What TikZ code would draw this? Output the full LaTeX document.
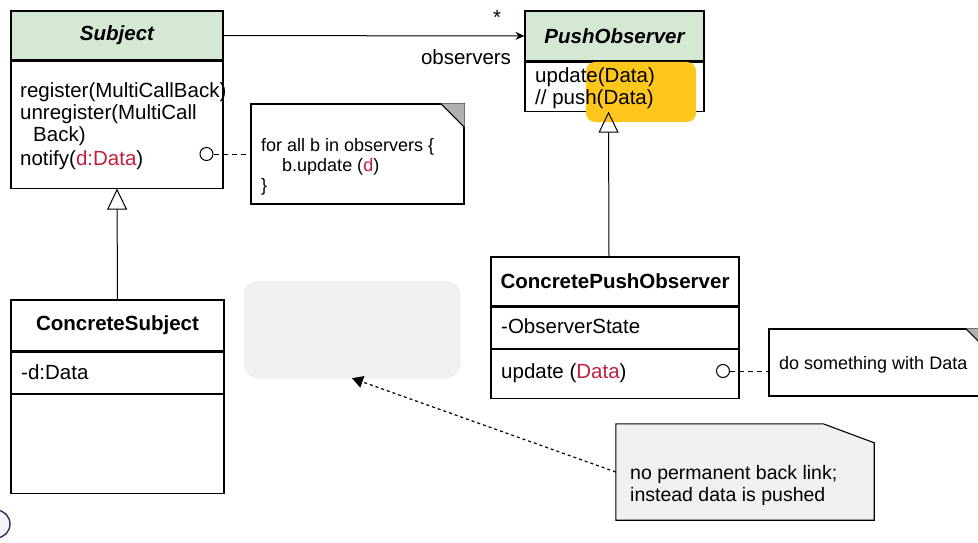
\documentclass[tikz,border=0pt]{standalone}
\usepackage{fontspec}
\setmainfont{Liberation Sans}
\usetikzlibrary{positioning, arrows.meta}

\definecolor{hdrgreen}{RGB}{213,232,212}
\definecolor{dred}{RGB}{190,32,62}
\definecolor{hilite}{RGB}{255,198,28}
\definecolor{notegray}{RGB}{240,240,242}
\definecolor{foldgray}{RGB}{176,176,176}
\definecolor{logoblue}{RGB}{40,52,92}

\begin{document}
\begin{tikzpicture}[x=1pt, y=-1pt,
    font=\fontsize{20.5}{23}\selectfont,
    cls/.style={draw, line width=1.1pt, inner sep=0pt},
    hdr/.style={cls, fill=hdrgreen, font=\fontsize{20.5}{23}\selectfont\bfseries\itshape},
    chdr/.style={cls, font=\fontsize{20.5}{23}\selectfont\bfseries},
    txt/.style={inner sep=0pt, anchor=base west},
    notetxt/.style={txt, font=\fontsize{18}{21}\selectfont},
    note/.style={draw, line width=1.1pt, fill=white, inner sep=0pt},
    fold/.style={fill=foldgray},
    lolly/.style={circle, draw, line width=1pt, fill=white, minimum size=13pt, inner sep=0pt},
    link/.style={line width=1pt, dash pattern=on 5pt off 4pt},
    assoc/.style={-{Stealth[length=9pt, width=8pt]}, line width=1pt},
    inherit/.style={-{Triangle[open, length=21pt, width=20pt]}, line width=1pt},
    hint/.style={-{Triangle[length=11pt, width=12pt]}, line width=1.2pt, dash pattern=on 3pt off 3pt},
]
\clip (0,0) rectangle (978,543);

% --- Subject ---
\node[hdr, minimum width=212pt, minimum height=49pt] (subject) at (117,35.5) {Subject};
\node[cls, minimum width=212pt, minimum height=127pt, below=0pt of subject] (subjectops) {};
\node[txt] (subjop1) at (20,97) {register(MultiCallBack)};
\node[txt] (subjop2) at (20,120) {unregister(MultiCall};
\node[txt] (subjop3) at (33,142) {Back)};
\node[txt] (subjop4) at (20,165) {notify(\textcolor{dred}{d:Data})};
\node[lolly] (notifydot) at (206.5,154) {};

% --- for all note ---
\node[note, minimum width=213pt, minimum height=100pt] (forallnote) at (357.5,154) {};
\fill[fold] ([xshift=-24pt]forallnote.north east) -- (forallnote.north east)
    -- ([yshift=-24pt]forallnote.north east) -- cycle;
\draw[line width=1.1pt] ([xshift=-24pt]forallnote.north east) -- ([yshift=-24pt]forallnote.north east);
\node[notetxt] (forall1) at (261,151) {for all b in observers \{};
\node[notetxt] (forall2) at (282,171) {b.update (\textcolor{dred}{d})};
\node[notetxt] (forall3) at (261,191) {\}};

% --- PushObserver ---
\node[hdr, minimum width=179pt, minimum height=50pt] (push) at (614.5,36) {PushObserver};
\node[cls, minimum width=179pt, minimum height=49pt, below=0pt of push] (pushops) {};
\fill[hilite, rounded corners=9pt] (586,62) rectangle (696,122);
\node[txt] (pushop1) at (535,82) {update(Data)};
\node[txt] (pushop2) at (535,104) {// push(Data)};

% --- ConcretePushObserver ---
\node[chdr, minimum width=248pt, minimum height=49pt] (cpush) at (615,281.5) {ConcretePushObserver};
\node[cls, minimum width=248pt, minimum height=41pt, below=0pt of cpush] (cpushattr) {};
\node[cls, minimum width=248pt, minimum height=49pt, below=0pt of cpushattr] (cpushops) {};
\node[txt] (cpushstate) at (501,333) {-ObserverState};
\node[txt] (cpushupd) at (501,378) {update (\textcolor{dred}{Data})};
\node[lolly] (updatedot) at (723,371) {};

% --- do something note ---
\node[note, minimum width=220pt, minimum height=67pt] (datanote) at (879,362.5) {};
\fill[fold] ([xshift=-24pt]datanote.north east) -- (datanote.north east)
    -- ([yshift=-24pt]datanote.north east) -- cycle;
\draw[line width=1.1pt] ([xshift=-24pt]datanote.north east) -- ([yshift=-24pt]datanote.north east);
\node[notetxt] (datanotetxt) at (779,369) {do something with Data};

% --- ConcreteSubject ---
\node[chdr, minimum width=213pt, minimum height=51pt] (csubject) at (117.5,325.5) {ConcreteSubject};
\node[cls, minimum width=213pt, minimum height=41pt, below=0pt of csubject] (csubjectattr) {};
\node[cls, minimum width=213pt, minimum height=99pt, below=0pt of csubjectattr] (csubjectops) {};
\node[txt] (csubjectdata) at (21,379) {-d:Data};

% --- missing back link ---
\node[fill=notegray, rounded corners=14pt, minimum width=217pt, minimum height=97pt] (backlink) at (352,329.5) {};

\node[minimum width=258pt, minimum height=96pt, inner sep=0pt] (pushnote) at (745,472) {};
\draw[line width=1.1pt, fill=notegray] (pushnote.north west) -- ([xshift=-51pt]pushnote.north east)
    -- ([yshift=-19pt]pushnote.north east) -- (pushnote.south east) -- (pushnote.south west) -- cycle;
\node[txt, font=\fontsize{19.5}{22}\selectfont] (pushnote1) at (630,479) {no permanent back link;};
\node[txt, font=\fontsize{19.5}{22}\selectfont] (pushnote2) at (630,501) {instead data is pushed};

% --- logo ---
\node[circle, draw=logoblue, line width=1.4pt, fill=blue!4, minimum size=28pt] (logo) at (-4,524) {};

% --- Arrows ---
\draw[assoc] (subject) -- (push);
\node (mult) at (497,17) {*};
\node (rolename) at (466,57) {observers};
\draw[inherit] (csubject.north) -- (subjectops.south);
\draw[inherit] ([xshift=-6pt]cpush.north) -- ([xshift=-6pt]pushops.south);
\draw[link] (notifydot) -- (forallnote.west |- notifydot);
\draw[link] (updatedot) -- (datanote.west |- updatedot);
\draw[hint] (pushnote.west) -- (backlink.south);

\end{tikzpicture}
\end{document}
